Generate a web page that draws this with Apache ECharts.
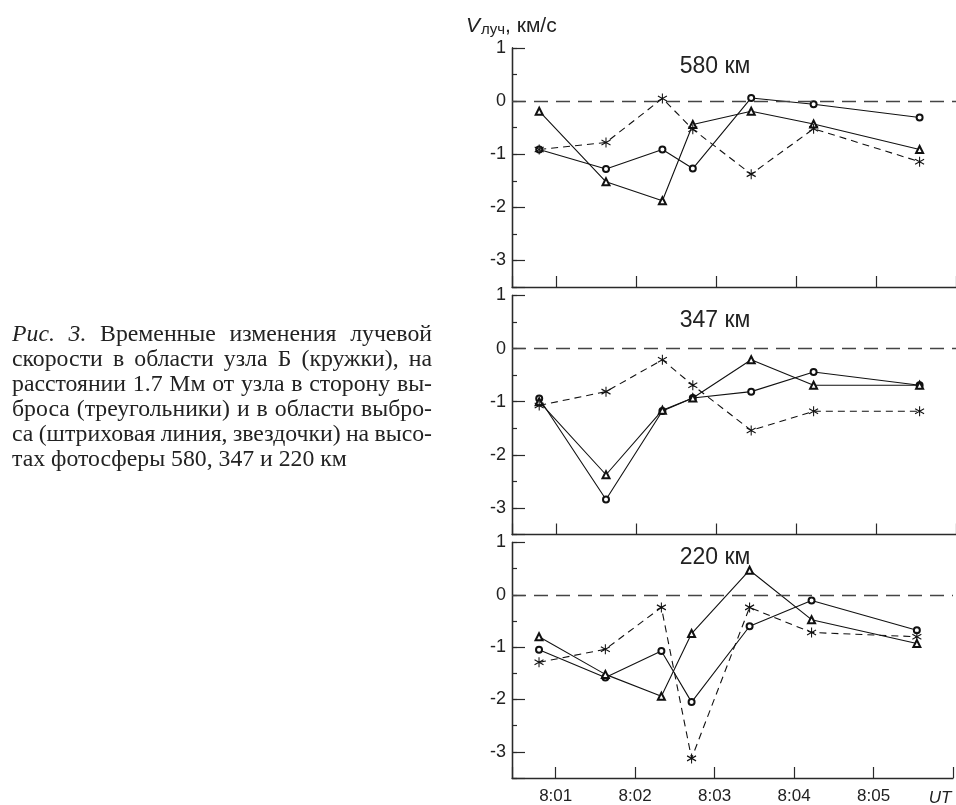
<!DOCTYPE html>
<html>
<head>
<meta charset="utf-8">
<script src="https://cdn.jsdelivr.net/npm/echarts@6/dist/echarts.min.js"></script>
<style>
  html, body { margin: 0; padding: 0; background: #fff; }
  #chart { width: 956px; height: 805px; }
</style>
</head>
<body>
<div id="chart"></div>
<script>
  // время наблюдений, минуты после 8:00
  const times = [0.79, 1.625, 2.33, 2.71, 3.44, 4.22, 5.545]
  const heights = ['580 км', '347 км', '220 км']
  const xTickLabels = ['8:01', '8:02', '8:03', '8:04', '8:05']
  const yTickLabels = ['-3', '-2', '-1', '0', '1']

  // узел Б (кружки)
  const circ580 = [-0.91, -1.28, -0.91, -1.27, 0.06, -0.06, -0.31]
  const circ347 = [-0.94, -2.84, -1.175, -0.93, -0.81, -0.44, -0.69]
  const circ220 = [-1.05, -1.58, -1.075, -2.05, -0.6, -0.11, -0.675]
  // 1.7 Мм от узла (треугольники)
  const tri580 = [-0.19, -1.52, -1.875, -0.44, -0.19, -0.43, -0.91]
  const tri347 = [-1.0, -2.375, -1.16, -0.93, -0.21, -0.69, -0.69]
  const tri220 = [-0.8, -1.52, -1.94, -0.74, 0.47, -0.475, -0.93]
  // выброс (звездочки, штрих)
  const star580 = [-0.91, -0.78, 0.05, -0.53, -1.375, -0.52, -1.14]
  const star347 = [-1.07, -0.81, -0.21, -0.69, -1.54, -1.18, -1.18]
  const star220 = [-1.29, -1.04, -0.24, -3.125, -0.24, -0.72, -0.8]

  const captionLines = [
    'Рис. 3. Временные изменения лучевой',
    'скорости в области узла Б (кружки), на',
    'расстоянии 1.7 Мм от узла в сторону вы-',
    'броса (треугольники) и в области выбро-',
    'са (штриховая линия, звездочки) на высо-',
    'тах фотосферы 580, 347 и 220 км'
  ]

  const SANS = '"Liberation Sans", Arial, sans-serif'
  const SERIF = '"Liberation Serif", "Times New Roman", serif'
  const AX = '#2a2a2a'
  const panels = [
    { circ: circ580, tri: tri580, star: star580 },
    { circ: circ347, tri: tri347, star: star347 },
    { circ: circ220, tri: tri220, star: star220 }
  ]
  const gridTops = [48, 295.5, 542.5]
  const STAR = 'path://M0,-10L0,10M-8.66,-5L8.66,5M-8.66,5L8.66,-5'

  function pairs(vals) {
    return times.map((t, i) => [t, vals[i]])
  }

  let grids = [], xAxes = [], yAxes = [], series = [], graphics = []

  panels.forEach((p, k) => {
    grids.push({ left: 512, width: 444, top: gridTops[k], height: 239 })
    xAxes.push({
      type: 'value', gridIndex: k, min: 0.45, max: 6, minInterval: 1, maxInterval: 1,
      axisLine: { onZero: false, lineStyle: { color: AX, width: 1.3 } },
      axisTick: { inside: true, length: 11, lineStyle: { color: AX, width: 1.2 } },
      splitLine: { show: false },
      axisLabel: {
        show: k === 2, color: '#222', fontFamily: SANS, fontSize: 17, margin: 10,
        formatter: v => (Number.isInteger(v) && v >= 1 && v <= 5) ? xTickLabels[v - 1] : ''
      }
    })
    // мелкие деления через 0.5
    yAxes.push({
      type: 'value', gridIndex: k, position: 'left', offset: 0,
      min: -3.5, max: 1, interval: 0.5,
      axisLine: { show: true, onZero: false, lineStyle: { color: AX, width: 1.3 } },
      axisTick: { inside: true, length: 5, lineStyle: { color: AX, width: 1.2 } },
      axisLabel: { show: false },
      splitLine: { show: false }
    })
    // крупные деления и подписи
    yAxes.push({
      type: 'value', gridIndex: k, position: 'left', offset: 0,
      min: -3.5, max: 1, minInterval: 1, maxInterval: 1,
      axisLine: { show: true, onZero: false, lineStyle: { color: AX, width: 1.3 } },
      axisTick: { inside: true, length: 13, lineStyle: { color: AX, width: 1.2 } },
      axisLabel: {
        color: '#222', fontFamily: SANS, fontSize: 18, margin: 6,
        formatter: v => Number.isInteger(v) ? yTickLabels[v + 3] : ''
      },
      splitLine: { show: false }
    })

    series.push({
      type: 'line', xAxisIndex: k, yAxisIndex: 2 * k, data: pairs(p.circ),
      symbol: 'emptyCircle', symbolSize: 6, z: 3,
      itemStyle: { color: '#111', borderColor: '#111', borderWidth: 1 },
      lineStyle: { color: '#111', width: 1.1 },
      markLine: {
        silent: true, symbol: 'none', label: { show: false },
        lineStyle: { color: '#444', width: 1.3, type: [14, 8] },
        data: [{ yAxis: 0 }]
      }
    })
    series.push({
      type: 'line', xAxisIndex: k, yAxisIndex: 2 * k, data: pairs(p.tri),
      symbol: 'emptyTriangle', symbolSize: 7, z: 3,
      itemStyle: { color: '#111', borderColor: '#111', borderWidth: 1 },
      lineStyle: { color: '#111', width: 1.1 }
    })
    series.push({
      type: 'line', xAxisIndex: k, yAxisIndex: 2 * k, data: pairs(p.star),
      symbol: STAR, symbolSize: [9, 10], z: 3,
      itemStyle: { color: '#111', borderColor: '#111', borderWidth: 1.1 },
      lineStyle: { color: '#111', width: 1.1, type: [7, 5] }
    })

    graphics.push({
      type: 'text', x: 715, y: gridTops[k] + [19, 25, 15][k],
      style: {
        text: heights[k], fill: '#222', font: '23px ' + SANS,
        textAlign: 'center', textVerticalAlign: 'middle'
      }
    })
  })

  // подпись оси
  graphics.push({
    type: 'text', x: 466, y: 26,
    style: {
      text: '{v|V}{s|луч}{n|, км/с}',
      textVerticalAlign: 'middle',
      rich: {
        v: { font: 'italic 21px ' + SANS, fill: '#222' },
        s: { font: '15px ' + SANS, fill: '#222', padding: [8, 0, 0, 1] },
        n: { font: '21px ' + SANS, fill: '#222' }
      }
    }
  })
  graphics.push({
    type: 'text', x: 940, y: 798,
    style: {
      text: 'UT', font: 'italic 17px ' + SANS, fill: '#222',
      textAlign: 'center', textVerticalAlign: 'middle'
    }
  })

  // подпись к рисунку, выравнивание по ширине
  const capLeft = 12, capRight = 432
  const ctx = document.createElement('canvas').getContext('2d')
  ctx.font = '21px ' + SERIF
  let capSize = Math.min(25, 21 * 335 / ctx.measureText(captionLines[5]).width)
  captionLines.forEach((line, li) => {
    let words = line.split(' ')
    let fonts = words.map((w, wi) => ((li === 0 && wi < 2) ? 'italic ' : '') + capSize + 'px ' + SERIF)
    let widths = words.map((w, wi) => { ctx.font = fonts[wi]; return ctx.measureText(w).width })
    let total = widths.reduce((a, b) => a + b, 0)
    let last = li === captionLines.length - 1
    ctx.font = capSize + 'px ' + SERIF
    let gap = last ? ctx.measureText(' ').width : (capRight - capLeft - total) / (words.length - 1)
    let x = capLeft
    words.forEach((w, wi) => {
      graphics.push({
        type: 'text', x: x, y: 335 + li * 25,
        style: { text: w, font: fonts[wi], fill: '#222', textVerticalAlign: 'middle' }
      })
      x += widths[wi] + gap
    })
  })

  let myChart = echarts.init(document.getElementById('chart'))
  myChart.setOption({
    animation: false,
    backgroundColor: '#fff',
    grid: grids,
    xAxis: xAxes,
    yAxis: yAxes,
    series: series,
    graphic: graphics
  })
</script>
</body>
</html>
